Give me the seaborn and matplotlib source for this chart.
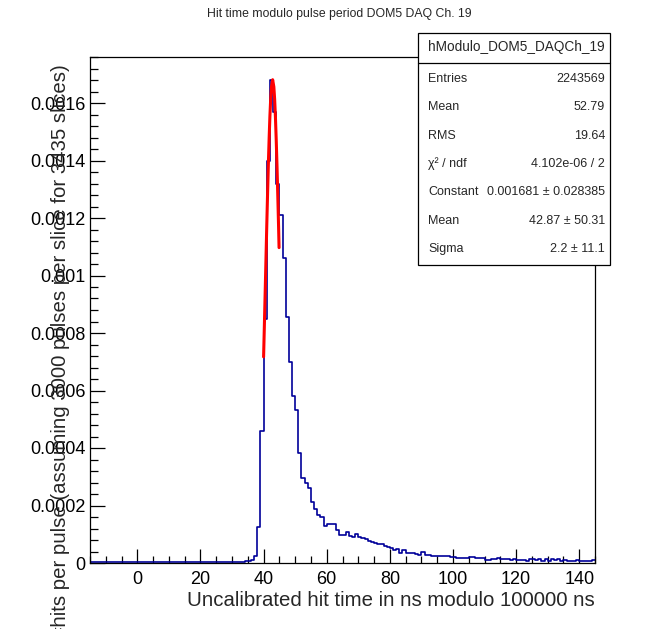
import numpy as np
import pandas as pd
import matplotlib
matplotlib.use("Agg")
import matplotlib.pyplot as plt
from matplotlib.patches import Rectangle
from matplotlib.ticker import MultipleLocator, FuncFormatter
import seaborn as sns

# histogram: 1 ns bins from -15 to 145, hits per pulse
bin_lo = -15
bin_hi = 145
hits = [
    # -15 .. 35 (flat baseline)
    5e-6, 3e-6, 3e-6, 3e-6, 3e-6, 3e-6, 3e-6, 3e-6, 3e-6, 3e-6,
    5e-6, 3e-6, 3e-6, 5e-6, 5e-6, 3e-6, 4e-6, 3e-6, 5e-6, 5e-6,
    3e-6, 4e-6, 3e-6, 5e-6, 4e-6, 5e-6, 3e-6, 4e-6, 4e-6, 3e-6,
    3e-6, 4e-6, 5e-6, 3e-6, 4e-6, 5e-6, 4e-6, 3e-6, 4e-6, 5e-6,
    3e-6, 4e-6, 3e-6, 5e-6, 4e-6, 3e-6, 4e-6, 4e-6, 5e-6, 6e-6,
    7e-6,
    # 36 .. 59 (peak)
    0.000012, 0.000025, 0.000125, 0.00046, 0.00085, 0.00140, 0.00168, 0.00157,
    0.00132, 0.00121, 0.00106, 0.000856, 0.000699, 0.00058, 0.000532, 0.000383,
    0.000297, 0.000280, 0.000261, 0.000212, 0.000188, 0.000168, 0.000160, 0.000129,
    # 60 .. 99 (tail)
    0.000136, 0.000137, 0.000134, 0.000115, 0.000098, 0.000097, 0.000109, 0.000093,
    0.000089, 0.000101, 0.000090, 0.000088, 0.000082, 0.000078, 0.000072, 0.000071,
    0.000066, 0.000065, 0.000060, 0.000054, 0.000051, 0.000044, 0.000049, 0.000036,
    0.000044, 0.000036, 0.000034, 0.000035, 0.000033, 0.000029, 0.000037, 0.000028,
    0.000027, 0.000024, 0.000025, 0.000024, 0.000024, 0.000023, 0.000024, 0.000022,
    # 100 .. 144
    0.000022, 0.000017, 0.000018, 0.000017, 0.000017, 0.000020, 0.000020, 0.000019,
    0.000018, 0.000018, 0.000011, 0.000010, 0.000015, 0.000015, 0.000016, 0.000015,
    0.000013, 0.000013, 0.000012, 0.000013, 0.000010, 0.000011, 0.000010, 0.000007,
    0.000013, 0.000013, 0.000012, 0.000013, 0.000008, 0.000013, 0.000008, 0.000013,
    0.000012, 0.000013, 0.000008, 0.000009, 0.000008, 0.000007, 0.000008, 0.000009,
    0.000008, 0.000008, 0.000008, 0.000006, 0.000010,
]

# gaussian fit curve
fit_x = [40.0, 40.25, 40.5, 40.75, 41.0, 41.25, 41.5, 41.75, 42.0, 42.25, 42.5,
         42.87, 43.25, 43.5, 43.75, 44.0, 44.25, 44.5, 44.75, 44.9]
fit_y = [0.000717, 0.000828, 0.000941, 0.001056, 0.001171, 0.001280, 0.001384,
         0.001475, 0.001554, 0.001615, 0.001656, 0.001681, 0.001656, 0.001613,
         0.001551, 0.001472, 0.001380, 0.001277, 0.001169, 0.001097]

title = "Hit time modulo pulse period DOM5 DAQ Ch. 19"
xlabel = "Uncalibrated hit time in ns modulo 100000 ns"
ylabel = "#hits per pulse (assuming 3000 pulses per slice for 3435 slices)"

stats_name = "hModulo_DOM5_DAQCh_19"
stats_rows = [
    ("Entries", "2243569"),
    ("Mean", "52.79"),
    ("RMS", "19.64"),
    ("\u03c7\u00b2 / ndf", "4.102e-06 / 2"),
    ("Constant", "0.001681 \u00b1 0.028385"),
    ("Mean", "42.87 \u00b1 50.31"),
    ("Sigma", "2.2 \u00b1 11.1"),
]

sns.set_style("ticks")
plt.rcParams['font.family'] = ['Liberation Sans', 'DejaVu Sans']

W, H = 653, 629
fig = plt.figure(figsize=(W / 100, H / 100), dpi=100)
ax = fig.add_axes([90 / W, 1 - 563 / H, 505 / W, 506 / H])

hist_df = pd.DataFrame({"t": np.arange(bin_lo, bin_hi) + 0.5, "w": hits})
sns.histplot(data=hist_df, x="t", weights="w", binwidth=1, binrange=(bin_lo, bin_hi),
             element="step", fill=False, color="#000099", linewidth=1.2, ax=ax)
sns.lineplot(x=fit_x, y=fit_y, color="#ff0000", linewidth=2.2, ax=ax)

ax.set_xlim(-15, 145)
ax.set_ylim(0, 0.00176)
ax.xaxis.set_major_locator(MultipleLocator(20))
ax.xaxis.set_minor_locator(MultipleLocator(5))
ax.yaxis.set_major_locator(MultipleLocator(0.0002))
ax.yaxis.set_minor_locator(MultipleLocator(0.00004))
ax.yaxis.set_major_formatter(FuncFormatter(lambda v, p: "%g" % round(v, 6)))
ax.tick_params(which="both", direction="in", top=False, right=False,
               colors="black", width=0.9, labelsize=13)
ax.tick_params(axis="x", which="major", length=10, pad=6)
ax.tick_params(axis="x", which="minor", length=5)
ax.tick_params(axis="y", which="major", length=11, pad=3)
ax.tick_params(axis="y", which="minor", length=6)
for s in ax.spines.values():
    s.set_linewidth(0.9)
    s.set_color("black")

ax.set_xlabel(xlabel, loc="right", fontsize=14.7, labelpad=2)
ax.set_ylabel(ylabel, loc="top", fontsize=14.7)
ax.yaxis.set_label_coords(-0.040, 0.985)

fig.text(339 / W, 1 - 14 / H, title, ha="center", va="center", fontsize=8.8)

# stats box
bx0, bx1, by0, by1 = 418, 610, 33, 265
fig.patches.append(Rectangle((bx0 / W, 1 - by1 / H), (bx1 - bx0) / W, (by1 - by0) / H,
                             transform=fig.transFigure, facecolor="white",
                             edgecolor="black", linewidth=0.9, zorder=5))
fig.lines.append(plt.Line2D([bx0 / W, bx1 / W], [1 - 63 / H, 1 - 63 / H],
                            transform=fig.transFigure, color="black",
                            linewidth=0.9, zorder=6))
fig.text(428 / W, 1 - 47 / H, stats_name, ha="left", va="center", fontsize=9.8, zorder=7)
for i, (k, v) in enumerate(stats_rows):
    yy = 1 - (79 + i * 28.3) / H
    fig.text(428 / W, yy, k, ha="left", va="center", fontsize=9, zorder=7)
    fig.text(605 / W, yy, v, ha="right", va="center", fontsize=9, zorder=7)

fig.savefig("out.png", dpi=100)
